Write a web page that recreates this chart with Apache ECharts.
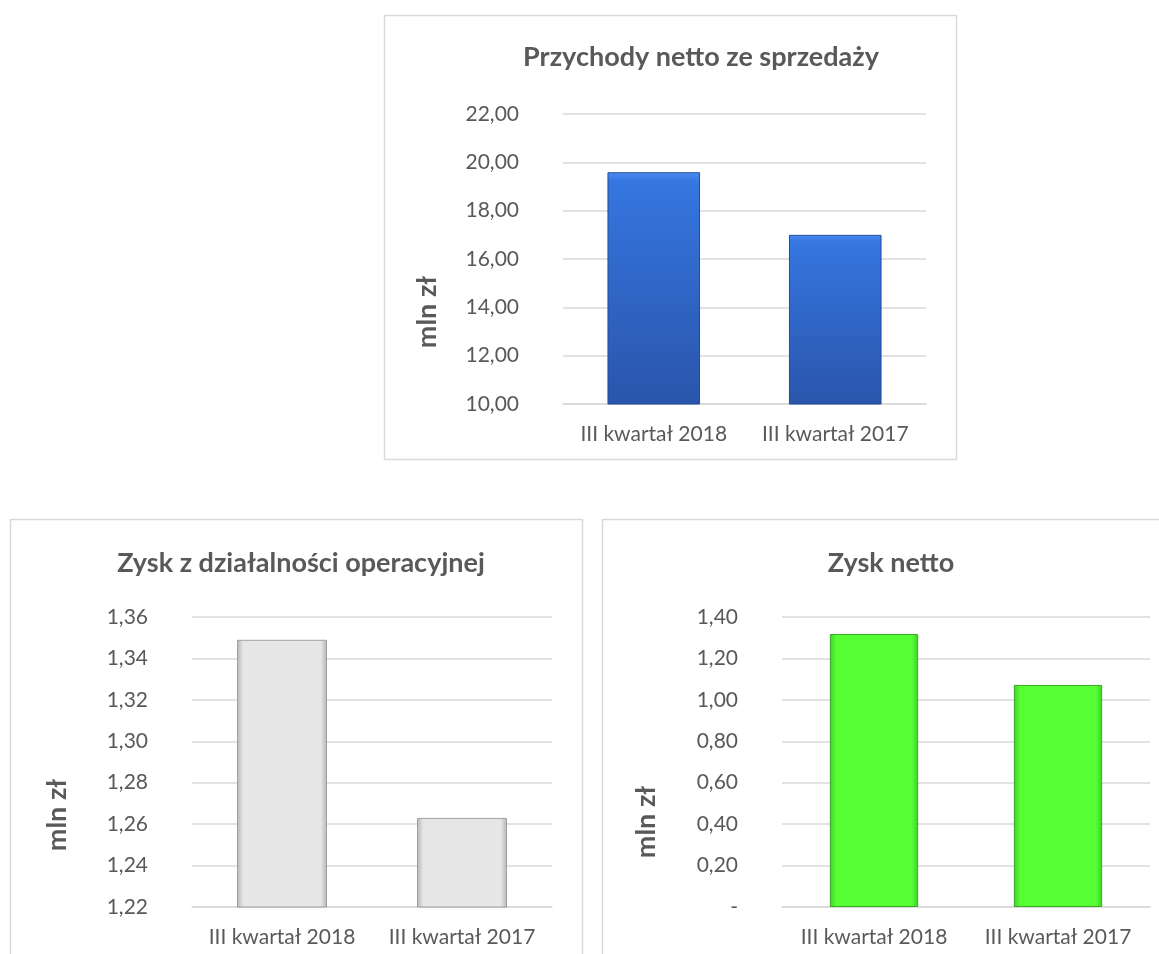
<!DOCTYPE html>
<html>
<head>
<meta charset="utf-8">
<script src="https://cdn.jsdelivr.net/npm/echarts@6/dist/echarts.min.js"></script>
<style>
html,body{margin:0;padding:0;background:#fff;}
#c{width:1159px;height:954px;}
</style>
</head>
<body>
<div id="c"></div>
<script>
// ---- data ----
const categories = ['III kwartał 2018', 'III kwartał 2017'];
const titles = ['Przychody netto ze sprzedaży', 'Zysk z działalności operacyjnej', 'Zysk netto'];
const salesValues = [19.59, 17.0];
const operatingValues = [1.349, 1.263];
const netValues = [1.318, 1.072];
const unitLabel = 'mln zł';

const FONT = 'Lato';
const TXT = '#595959';
const GRID = '#d9d9d9';

function hGrad(edge, mid) {
  return new echarts.graphic.LinearGradient(0, 0, 1, 0, [
    {offset: 0, color: edge},
    {offset: 0.07, color: mid},
    {offset: 0.93, color: mid},
    {offset: 1, color: edge}
  ]);
}
function fmt2(v) { return (Math.round(v * 100) / 100).toFixed(2).replace('.', ','); }

const chart = echarts.init(document.getElementById('c'), null, {renderer: 'canvas'});

const grids = [
  {left: 563, right: 233, top: 114, bottom: 550},
  {left: 192, right: 607, top: 617, bottom: 47},
  {left: 782, right: 9, top: 617, bottom: 47}
];
const yCfg = [
  {min: 10, max: 22, interval: 2, fmt: fmt2, nameGap: 122, pad: 106},
  {min: 1.22, max: 1.36, interval: 0.02, fmt: fmt2, nameGap: 121, pad: 106},
  {min: 0, max: 1.4, interval: 0.2, fmt: v => (Math.abs(v) < 1e-9 ? '-' : fmt2(v)), nameGap: 122, pad: 120}
];
const barColors = [
  new echarts.graphic.LinearGradient(0, 0, 0, 1, [
    {offset: 0, color: '#4a8cf0'},
    {offset: 0.04, color: '#3576e0'},
    {offset: 1, color: '#2a55ab'}
  ]),
  hGrad('#b5b5b5', '#e6e6e6'),
  hGrad('#3fcf26', '#55ff33')
];
const borderColors = ['#234c98', '#a0a0a0', '#3aa826'];
const barWidths = ['51%', '50%', '48%'];
const seriesData = [salesValues, operatingValues, netValues];
const titlePos = [[696, 39], [296, 545], [886, 545]];

const option = {
  backgroundColor: '#ffffff',
  animation: false,
  title: titles.map((t, i) => ({
    text: t, left: titlePos[i][0], top: titlePos[i][1], textAlign: 'center',
    textStyle: {fontFamily: FONT, fontWeight: 'bold', fontSize: 27, color: TXT}
  })),
  graphic: [
    {type: 'rect', shape: {x: 384.5, y: 15.5, width: 572, height: 444}, style: {fill: 'none', stroke: '#d9d9d9', lineWidth: 1.5}, z: -1},
    {type: 'rect', shape: {x: 10.5, y: 519.5, width: 572, height: 450}, style: {fill: 'none', stroke: '#d9d9d9', lineWidth: 1.5}, z: -1},
    {type: 'rect', shape: {x: 602.5, y: 519.5, width: 580, height: 450}, style: {fill: 'none', stroke: '#d9d9d9', lineWidth: 1.5}, z: -1}
  ],
  grid: grids,
  xAxis: grids.map((g, i) => ({
    type: 'category', gridIndex: i, data: categories,
    axisLine: {show: true, lineStyle: {color: GRID, width: 1.5}},
    axisTick: {show: false},
    axisLabel: {fontFamily: FONT, fontSize: 21, color: TXT, margin: 20, interval: 0}
  })),
  yAxis: yCfg.map((c, i) => ({
    type: 'value', gridIndex: i, min: c.min, max: c.max, interval: c.interval,
    name: unitLabel, nameLocation: 'middle', nameGap: c.nameGap, nameRotate: 90,
    nameTextStyle: {fontFamily: FONT, fontSize: 27, fontWeight: 'bold', color: TXT, padding: [0, c.pad, 0, 0]},
    axisLine: {show: false}, axisTick: {show: false},
    splitLine: {show: true, lineStyle: {color: GRID, width: 1.5}},
    axisLabel: {fontFamily: FONT, fontSize: 21, color: TXT, margin: 44, formatter: c.fmt}
  })),
  series: seriesData.map((d, i) => ({
    type: 'bar', xAxisIndex: i, yAxisIndex: i, data: d,
    barWidth: barWidths[i],
    itemStyle: {color: barColors[i], borderColor: borderColors[i], borderWidth: 1},
    silent: true
  }))
};
chart.setOption(option);
</script>
</body>
</html>
